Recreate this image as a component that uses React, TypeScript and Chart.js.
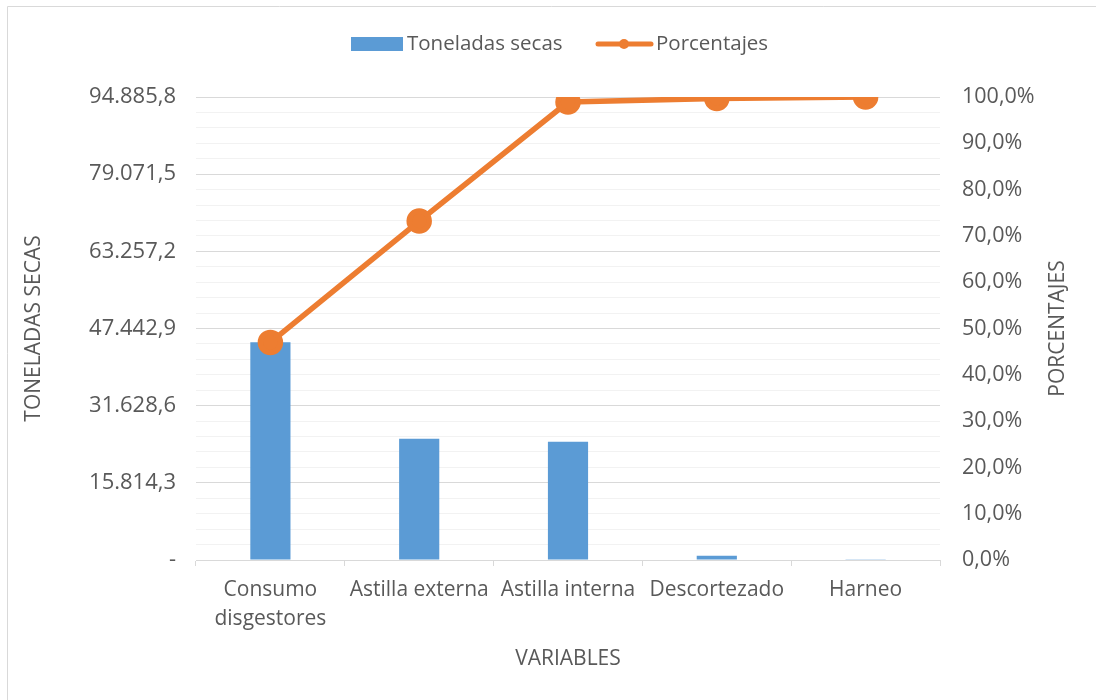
import React, { useEffect, useRef } from "react";
import { Chart, registerables } from "chart.js";

Chart.register(...registerables);

const categories: (string | string[])[] = [
  ["Consumo", "disgestores"],
  "Astilla externa",
  "Astilla interna",
  "Descortezado",
  "Harneo",
];
const toneladas: number[] = [44600, 24850, 24250, 850, 150];
const porcentajes: number[] = [47.0, 73.2, 98.9, 99.7, 100.0];
const leftTickLabels: string[] = ["-", "15.814,3", "31.628,6", "47.442,9", "63.257,2", "79.071,5", "94.885,8"];
const leftMax = 94885.8;
const rightTickLabels: string[] = ["0,0%", "10,0%", "20,0%", "30,0%", "40,0%", "50,0%", "60,0%", "70,0%", "80,0%", "90,0%", "100,0%"];

const FONT = "'Open Sans', sans-serif";
const TXT = "#595959";
const BLUE = "#5b9bd5";
const ORANGE = "#ed7d31";

const decorPlugin = {
  id: "decor",
  afterDraw(chart: any) {
    const ctx = chart.ctx as CanvasRenderingContext2D;
    const ca = chart.chartArea;
    ctx.save();
    // border (left & top only visible)
    ctx.strokeStyle = "#d9d9d9";
    ctx.lineWidth = 1;
    ctx.beginPath();
    ctx.moveTo(7.5, 700);
    ctx.lineTo(7.5, 6.5);
    ctx.lineTo(1096, 6.5);
    ctx.stroke();

    ctx.fillStyle = TXT;
    ctx.font = `21px ${FONT}`;
    ctx.textAlign = "center";
    ctx.textBaseline = "middle";
    const cy = (ca.top + ca.bottom) / 2;
    // left title
    ctx.save();
    ctx.translate(34, cy);
    ctx.rotate(-Math.PI / 2);
    ctx.fillText("TONELADAS SECAS", 0, 0);
    ctx.restore();
    // right title
    ctx.save();
    ctx.translate(1058, cy);
    ctx.rotate(-Math.PI / 2);
    ctx.fillText("PORCENTAJES", 0, 0);
    ctx.restore();
    // bottom title
    ctx.fillText("VARIABLES", (ca.left + ca.right) / 2, 659);

    // legend
    const ly = 44;
    ctx.fillStyle = BLUE;
    ctx.fillRect(351, 37, 52, 14);
    ctx.fillStyle = TXT;
    ctx.font = `20.5px ${FONT}`;
    ctx.textAlign = "left";
    ctx.fillText(chart.data.datasets[0].label, 407, ly);
    ctx.strokeStyle = ORANGE;
    ctx.lineWidth = 5;
    ctx.lineCap = "round";
    ctx.beginPath();
    ctx.moveTo(598, ly);
    ctx.lineTo(651, ly);
    ctx.stroke();
    ctx.fillStyle = ORANGE;
    ctx.beginPath();
    ctx.arc(624, ly, 5, 0, Math.PI * 2);
    ctx.fill();
    ctx.fillStyle = TXT;
    ctx.fillText(chart.data.datasets[1].label, 656, ly);
    ctx.restore();
  },
};

export default function App() {
  const ref = useRef<HTMLCanvasElement | null>(null);
  useEffect(() => {
    if (!ref.current) return;
    const step = leftMax / 30;
    const chart = new Chart(ref.current, {
      data: {
        labels: categories as any,
        datasets: [
          {
            type: "bar",
            label: "Toneladas secas",
            data: toneladas,
            backgroundColor: BLUE,
            yAxisID: "y",
            order: 2,
            categoryPercentage: 1,
            barPercentage: 0.27,
          },
          {
            type: "line",
            label: "Porcentajes",
            data: porcentajes,
            borderColor: ORANGE,
            backgroundColor: ORANGE,
            borderWidth: 5.5,
            pointRadius: 10,
            pointBackgroundColor: ORANGE,
            pointBorderColor: ORANGE,
            yAxisID: "y1",
            order: 1,
            tension: 0,
          },
        ] as any,
      },
      options: {
        animation: false,
        responsive: false,
        layout: { padding: { top: 97, left: 0, right: 0, bottom: 0 } },
        plugins: {
          legend: { display: false },
          tooltip: { enabled: false },
        },
        scales: {
          x: {
            type: "category",
            offset: true,
            grid: {
              offset: true,
              drawOnChartArea: false,
              drawTicks: true,
              tickLength: 6,
              color: "#d9d9d9",
            },
            border: { color: "#d9d9d9" },
            ticks: {
              color: TXT,
              font: { family: FONT, size: 21, lineHeight: 1.4 },
              padding: 9,
              maxRotation: 0,
              autoSkip: false,
            },
            afterFit(scale: any) {
              scale.height = 140;
            },
          },
          y: {
            type: "linear",
            position: "left",
            min: 0,
            max: leftMax,
            afterBuildTicks(scale: any) {
              const t = [];
              for (let i = 0; i <= 30; i++) t.push({ value: i * step });
              scale.ticks = t;
            },
            grid: {
              drawTicks: false,
              color: (c: any) => (c.index % 5 === 0 ? "#d9d9d9" : "#f2f2f2"),
              lineWidth: 1,
            },
            border: { display: false },
            ticks: {
              color: TXT,
              font: { family: FONT, size: 22 },
              padding: 20,
              autoSkip: false,
              callback: (_v: any, i: number) => (i % 5 === 0 ? leftTickLabels[i / 5] : ""),
            },
            afterFit(scale: any) {
              scale.width = 196;
            },
          },
          y1: {
            type: "linear",
            position: "right",
            min: 0,
            max: 100,
            grid: { drawOnChartArea: false, drawTicks: false },
            border: { display: false },
            ticks: {
              stepSize: 10,
              color: TXT,
              font: { family: FONT, size: 21.5 },
              padding: 22,
              callback: (v: any) => rightTickLabels[Math.round(Number(v) / 10)],
            },
            afterFit(scale: any) {
              scale.width = 156;
            },
          },
        },
      } as any,
      plugins: [decorPlugin],
    });
    return () => chart.destroy();
  }, []);
  return (
    <div style={{ position: "absolute", left: 0, top: 0, width: 1096, height: 700, background: "#fff" }}>
      <canvas ref={ref} width={1096} height={700} style={{ width: 1096, height: 700, display: "block" }} />
    </div>
  );
}
